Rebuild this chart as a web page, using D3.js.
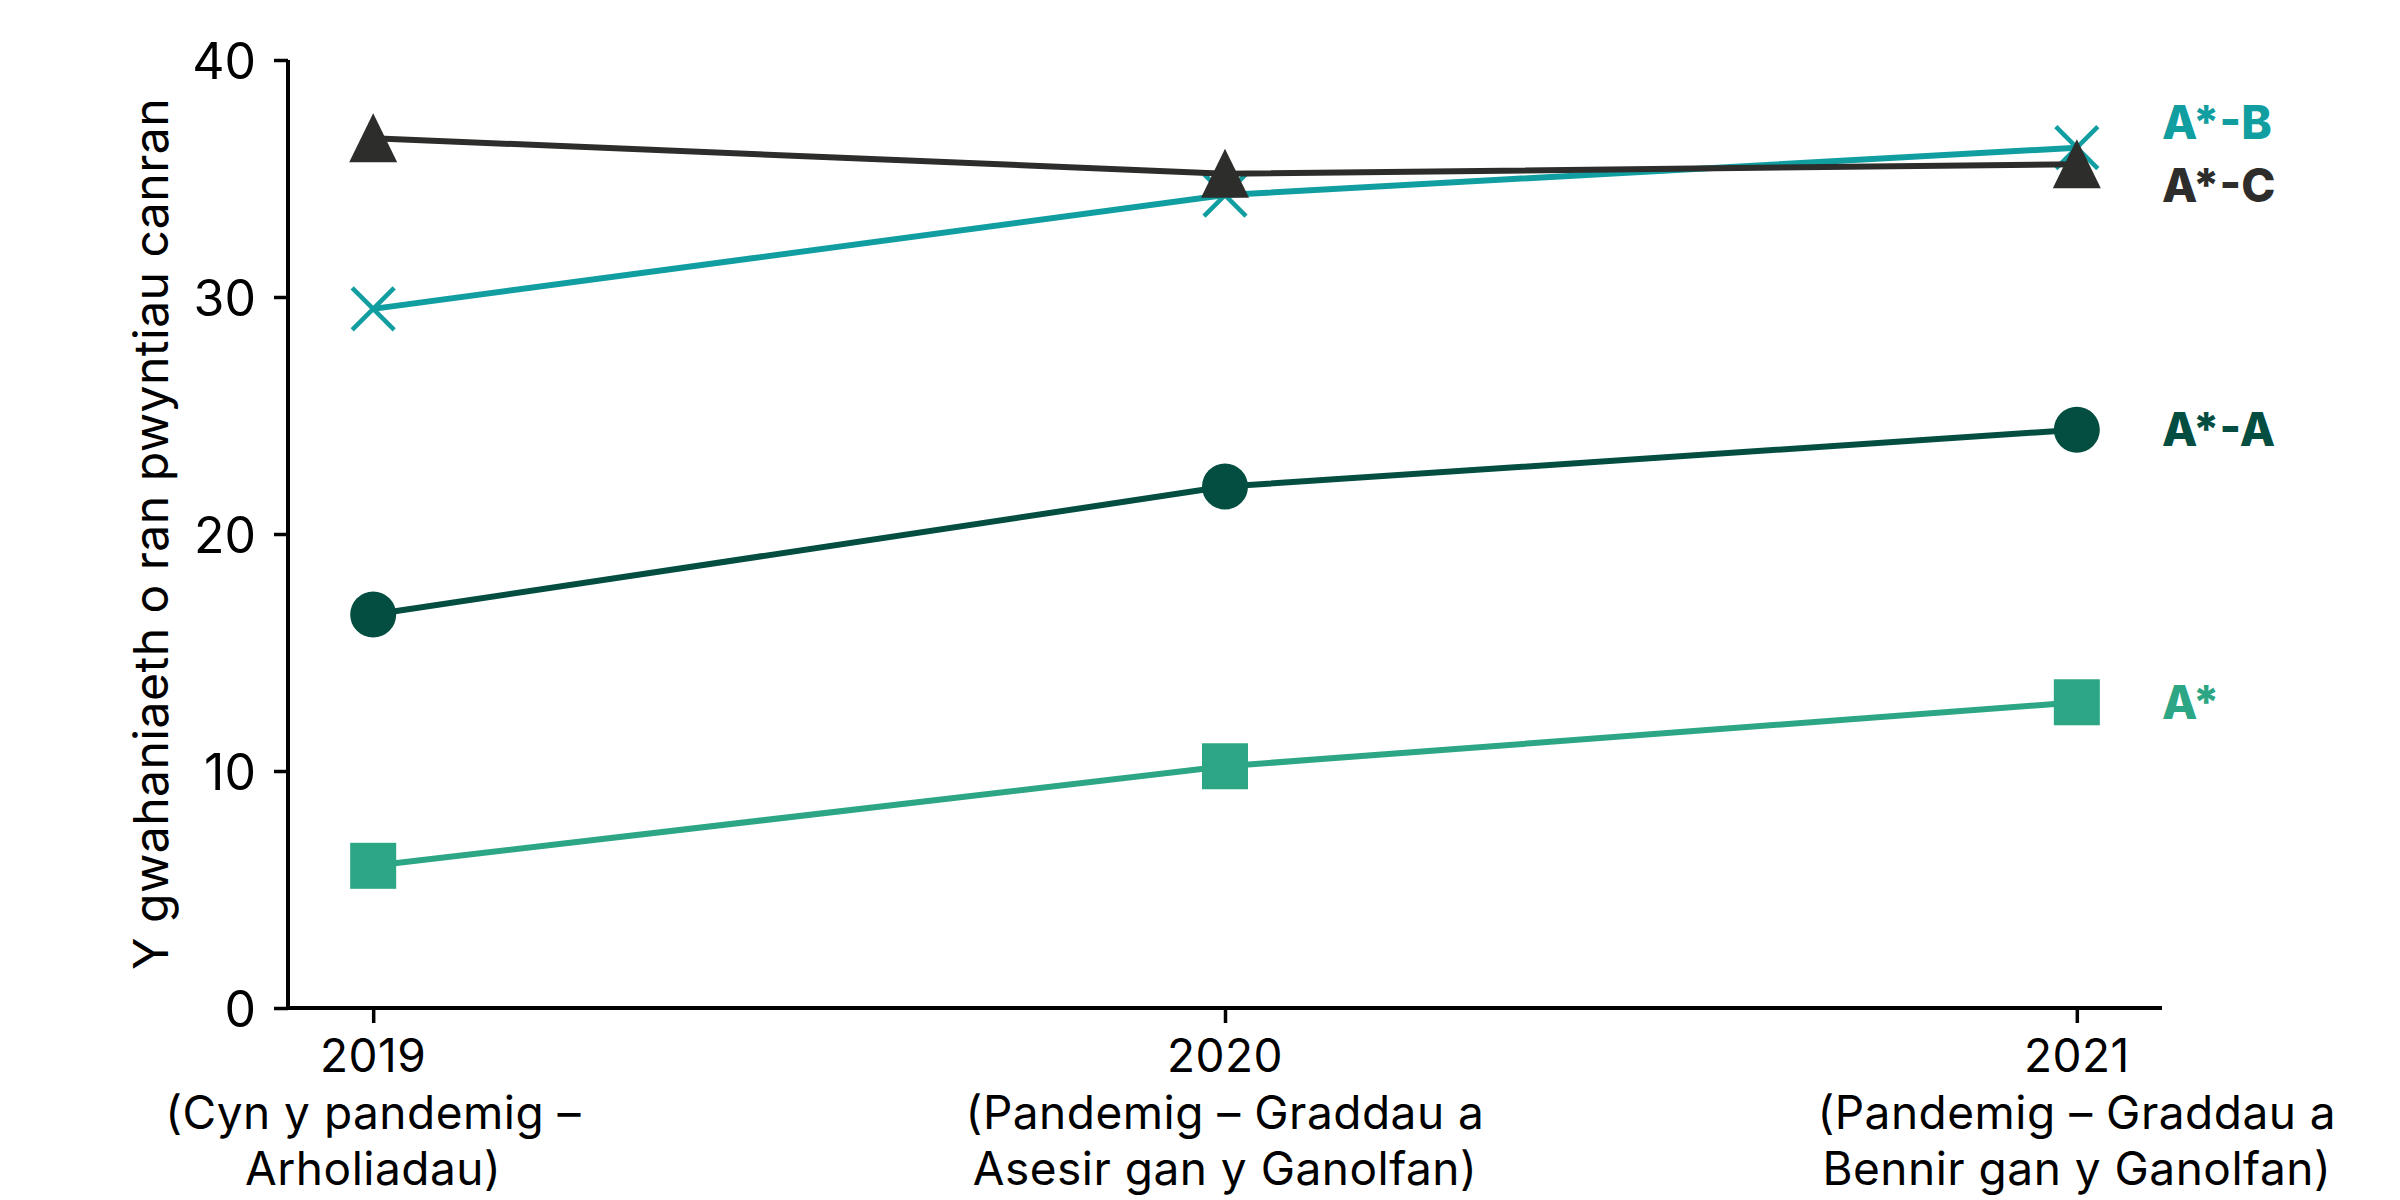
<!DOCTYPE html>
<html><head><meta charset="utf-8">
<script src="https://cdn.jsdelivr.net/npm/d3@7"></script>
<style>
html,body{margin:0;padding:0;background:#fff;}
svg{display:block;font-family:Inter,"Open Sans",sans-serif;}
</style></head>
<body><svg id="chart" width="2400" height="1200"></svg>
<script>
// ---- data ----
const years = ["2019", "2020", "2021"];
const yearSubLabels = [
  ["(Cyn y pandemig –", "Arholiadau)"],
  ["(Pandemig – Graddau a", "Asesir gan y Ganolfan)"],
  ["(Pandemig – Graddau a", "Bennir gan y Ganolfan)"]
];
const seriesNames = ["A*", "A*-A", "A*-B", "A*-C"];
const valuesAstar = [6.0, 10.2, 12.9];
const valuesAtoA = [16.6, 22.0, 24.4];
const valuesAtoB = [29.5, 34.3, 36.3];
const valuesAtoC = [36.7, 35.2, 35.6];
const yTicks = [0, 10, 20, 30, 40];
const yTitle = "Y gwahaniaeth o ran pwyntiau canran";

// ---- styles ----
const styles = {
  "A*":   {color: "#2ca684", marker: "square",   labelDy: 0},
  "A*-A": {color: "#034e41", marker: "circle",   labelDy: 0},
  "A*-B": {color: "#119ea1", marker: "x",        labelDy: -25},
  "A*-C": {color: "#2d2d2b", marker: "triangle", labelDy: 21}
};
const seriesValues = [valuesAstar, valuesAtoA, valuesAtoB, valuesAtoC];

const svg = d3.select("#chart");
const x = d3.scalePoint().domain(years).range([288, 2162]).padding(0.1);
const y = d3.scaleLinear().domain([0, 40]).range([1008, 60]);

// axes
const yAxis = svg.append("g").attr("transform", "translate(288,0)")
  .call(d3.axisLeft(y).tickValues(yTicks).tickSize(14).tickPadding(18));
const xAxis = svg.append("g").attr("transform", "translate(0,1008)")
  .call(d3.axisBottom(x).tickSize(15).tickFormat(() => ""));
[yAxis, xAxis].forEach(g => {
  g.select(".domain").attr("stroke", "#000").attr("stroke-width", 4);
  g.selectAll(".tick line").attr("stroke", "#000").attr("stroke-width", 3.5);
});
xAxis.select(".domain").attr("d", "M286,0H2162");
yAxis.select(".domain").attr("d", "M0,60V1010");
yAxis.selectAll(".tick text").attr("font-size", 50).attr("fill", "#000")
  .attr("font-family", "Inter").attr("dy", "0.36em");

// x labels
years.forEach((yr, i) => {
  const t = svg.append("text").attr("x", x(yr)).attr("text-anchor", "middle")
    .attr("font-size", 46).attr("letter-spacing", 0.5).attr("fill", "#000");
  t.append("tspan").attr("x", x(yr)).attr("y", 1072).text(yr);
  yearSubLabels[i].forEach((s, j) => {
    t.append("tspan").attr("x", x(yr)).attr("y", 1129 + j * 56).text(s);
  });
});

// y title
svg.append("text")
  .attr("transform", `translate(168,${(y(0) + y(40)) / 2}) rotate(-90)`)
  .attr("text-anchor", "middle").attr("font-size", 48).attr("fill", "#000")
  .attr("letter-spacing", 0.5)
  .text(yTitle);

// series
const line = d3.line().x((d, i) => x(years[i])).y(d => y(d));
seriesNames.forEach((name, si) => {
  const st = styles[name];
  const vals = seriesValues[si];
  const g = svg.append("g");
  g.append("path").attr("d", line(vals)).attr("fill", "none")
    .attr("stroke", st.color).attr("stroke-width", 6);
  vals.forEach((v, i) => {
    const m = g.append("g").attr("transform", `translate(${x(years[i])},${y(v)})`);
    if (st.marker === "circle") {
      m.append("circle").attr("r", 23).attr("fill", st.color);
    } else if (st.marker === "square") {
      m.append("rect").attr("x", -23).attr("y", -23).attr("width", 46).attr("height", 46).attr("fill", st.color);
    } else if (st.marker === "triangle") {
      m.append("path").attr("d", "M0,-25L24,24L-24,24Z").attr("fill", st.color);
    } else if (st.marker === "x") {
      m.append("path").attr("d", "M-21,-21L21,21M-21,21L21,-21")
        .attr("stroke", st.color).attr("stroke-width", 4.5).attr("fill", "none");
    }
  });
  // end label
  svg.append("text").attr("x", 2162).attr("y", y(vals[vals.length - 1]) + st.labelDy)
    .attr("dy", "0.36em").attr("font-size", 46).attr("font-weight", 800)
    .attr("fill", st.color).text(name);
});
</script></body></html>
